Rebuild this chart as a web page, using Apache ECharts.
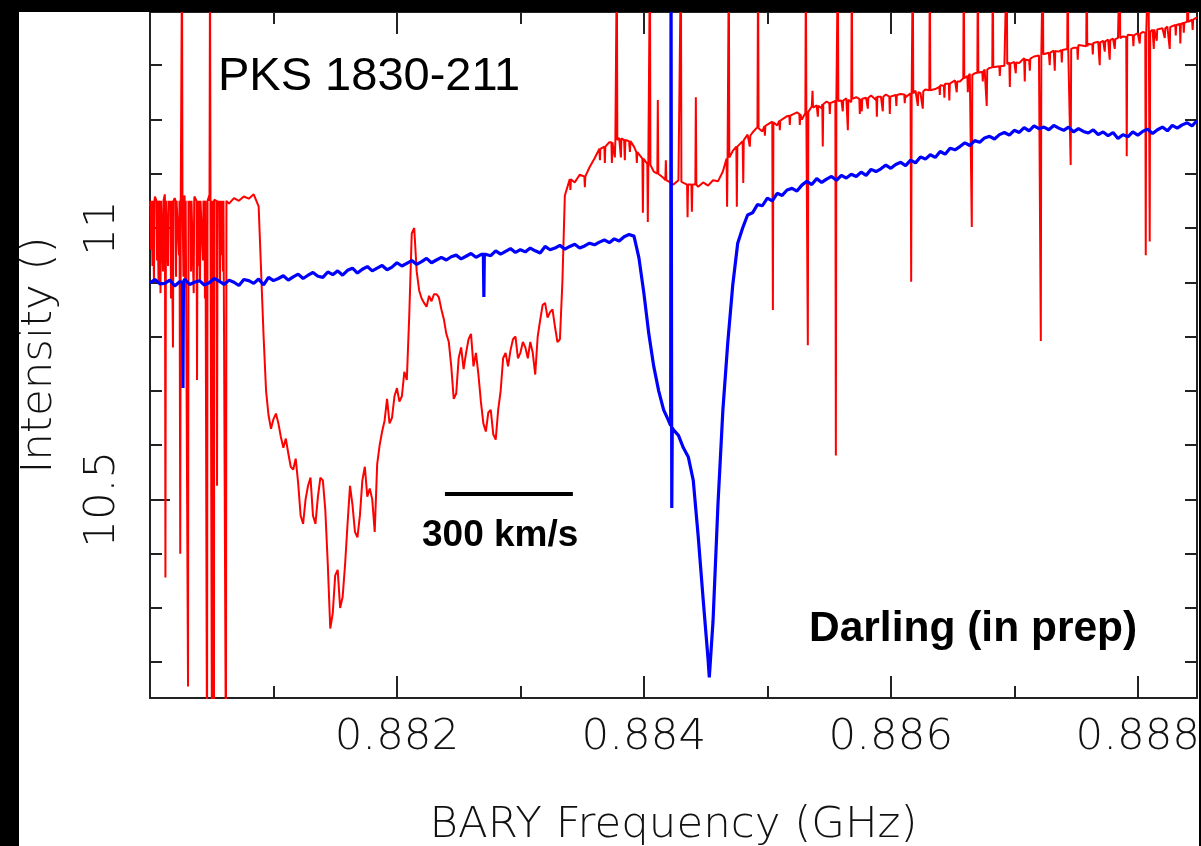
<!DOCTYPE html>
<html><head><meta charset="utf-8">
<script src="https://cdn.jsdelivr.net/npm/echarts@6/dist/echarts.min.js"></script>
<style>
html,body{margin:0;padding:0;background:#000;width:1201px;height:846px;overflow:hidden}
#chart{position:absolute;left:19px;top:12px;width:1180px;height:834px;background:#fff}
</style></head><body><div id="chart"></div>
<script>
// channel grid of both spectra (GHz)
const freqStart = 0.88;
const freqStep = 0.00004;

const redIntensity = [
11.040, 11.058, 11.045, 11.062, 11.035, 11.055, 11.048, 11.060, 11.040, 11.058,
11.050, 11.045, 11.060, 11.052, 11.040, 11.050, 11.045, 11.055, 11.050, 11.058,
11.054, 11.062, 11.040, 10.800, 10.655, 10.648, 10.640, 10.595, 10.585, 10.555,
10.530, 10.455, 10.525, 10.470, 10.505, 10.535, 10.380, 10.290, 10.370, 10.320,
10.455, 10.490, 10.430, 10.535, 10.505, 10.500, 10.565, 10.625, 10.685, 10.650,
10.705, 10.690, 10.720, 10.990, 10.920, 10.870, 10.855, 10.865, 10.878, 10.850,
10.805, 10.745, 10.695, 10.780, 10.770, 10.805, 10.770, 10.680, 10.625, 10.665,
10.610, 10.700, 10.770, 10.775, 10.800, 10.770, 10.780, 10.790, 10.730, 10.830,
10.862, 10.845, 10.818, 10.795, 11.060, 11.090, 11.084, 11.098, 11.094, 11.112,
11.128, 11.146, 11.150, 11.158, 11.160, 11.166, 11.162, 11.160, 11.150, 11.140,
11.126, 11.116, 11.104, 11.100, 11.092, 11.086, 11.080, 11.088, 11.082, 11.078,
11.082, 11.076, 11.084, 11.078, 11.088, 11.086, 11.104, 11.128, 11.142, 11.150,
11.160, 11.172, 11.176, 11.186, 11.178, 11.188, 11.196, 11.189, 11.198, 11.206,
11.205, 11.213, 11.200, 11.212, 11.224, 11.226, 11.221, 11.233, 11.229, 11.234,
11.235, 11.239, 11.232, 11.241, 11.237, 11.240, 11.244, 11.236, 11.242, 11.246,
11.239, 11.245, 11.247, 11.241, 11.248, 11.253, 11.249, 11.255, 11.258, 11.256,
11.263, 11.266, 11.268, 11.272, 11.270, 11.279, 11.284, 11.285, 11.289, 11.292,
11.295, 11.298, 11.301, 11.299, 11.305, 11.306, 11.304, 11.313, 11.309, 11.316,
11.318, 11.320, 11.323, 11.327, 11.325, 11.331, 11.333, 11.332, 11.337, 11.336,
11.339, 11.341, 11.343, 11.345, 11.347, 11.349, 11.350, 11.353, 11.356, 11.355,
11.359, 11.361, 11.360, 11.365, 11.366, 11.368, 11.371, 11.372, 11.375, 11.377,
11.380, 11.384, 11.388
];

// red absorption detail read between channels (half-channel offsets)
const redDetailStart = 0.88094;
const redDetail = [
10.700, 10.630, 10.658, 10.615, 10.612, 10.560, 10.575, 10.470, 10.500, 10.540,
10.455, 10.540, 10.480, 10.262, 10.360, 10.300, 10.380, 10.525, 10.440, 10.470,
10.560, 10.520, 10.440, 10.600, 10.645, 10.640, 10.690, 10.680, 10.735, 10.840,
11.000, 10.885, 10.862, 10.875, 10.878, 10.872, 10.832, 10.790, 10.685, 10.760,
10.740, 10.795, 10.745, 10.730, 10.640, 10.660, 10.620, 10.665, 10.760, 10.745,
10.795, 10.760, 10.790, 10.760, 10.770, 10.800, 10.858, 10.835, 10.850, 10.790,
10.900
];

const blueIntensity = [
10.899, 10.905, 10.897, 10.898, 10.904, 10.893, 10.901, 10.906, 10.896, 10.900,
10.903, 10.895, 10.899, 10.907, 10.902, 10.896, 10.904, 10.900, 10.894, 10.905,
10.903, 10.898, 10.906, 10.895, 10.909, 10.903, 10.907, 10.912, 10.904, 10.910,
10.915, 10.907, 10.913, 10.918, 10.911, 10.909, 10.919, 10.914, 10.921, 10.913,
10.922, 10.926, 10.917, 10.924, 10.929, 10.921, 10.926, 10.931, 10.923, 10.928,
10.936, 10.930, 10.935, 10.940, 10.933, 10.938, 10.944, 10.936, 10.941, 10.946,
10.941, 10.947, 10.950, 10.943, 10.948, 10.953, 10.946, 10.951, 10.955, 10.949,
10.958, 10.952, 10.957, 10.962, 10.955, 10.960, 10.956, 10.963, 10.958, 10.954,
10.966, 10.960, 10.963, 10.968, 10.961, 10.966, 10.970, 10.963, 10.967, 10.972,
10.969, 10.974, 10.978, 10.973, 10.980, 10.976, 10.984, 10.988, 10.985, 10.945,
10.880, 10.805, 10.745, 10.700, 10.665, 10.645, 10.628, 10.618, 10.595, 10.578,
10.535, 10.432, 10.316, 10.205, 10.275, 10.490, 10.665, 10.790, 10.895, 10.972,
11.000, 11.024, 11.028, 11.043, 11.041, 11.055, 11.050, 11.064, 11.060, 11.070,
11.073, 11.068, 11.079, 11.086, 11.080, 11.091, 11.084, 11.090, 11.095, 11.088,
11.097, 11.092, 11.099, 11.095, 11.103, 11.097, 11.108, 11.104, 11.109, 11.116,
11.110, 11.117, 11.121, 11.115, 11.125, 11.120, 11.131, 11.127, 11.135, 11.130,
11.141, 11.136, 11.147, 11.144, 11.150, 11.157, 11.152, 11.161, 11.158, 11.166,
11.169, 11.164, 11.172, 11.176, 11.171, 11.180, 11.176, 11.185, 11.179, 11.188,
11.183, 11.186, 11.181, 11.189, 11.184, 11.180, 11.186, 11.177, 11.183, 11.178,
11.175, 11.181, 11.172, 11.177, 11.170, 11.176, 11.165, 11.172, 11.168, 11.177,
11.171, 11.178, 11.182, 11.174, 11.181, 11.186, 11.179, 11.189, 11.184, 11.190,
11.194, 11.188, 11.198
];

// narrow RFI spikes: [GHz, local continuum, spike tip]
const redSpikes = [
[0.880008, 11.05, 10.96], [0.880020, 11.05, 10.93], [0.880032, 11.05, 10.90], [0.880057, 11.05, 10.94],
[0.880069, 11.05, 10.90], [0.880085, 11.05, 10.88], [0.880105, 11.05, 10.92], [0.880125, 11.05, 10.356],
[0.880146, 11.05, 10.93], [0.880170, 11.05, 10.87], [0.880186, 11.05, 10.78], [0.880211, 11.05, 10.91],
[0.880235, 11.05, 10.95], [0.880245, 11.05, 10.40], [0.880259, 11.05, 11.5], [0.880271, 11.05, 10.91],
[0.880285, 11.05, 10.89], [0.880308, 11.05, 10.155], [0.880332, 11.05, 10.92], [0.880354, 11.05, 10.88],
[0.880381, 11.05, 10.72], [0.880393, 11.05, 10.93], [0.880405, 11.05, 10.90], [0.880429, 11.05, 10.94],
[0.880445, 11.05, 10.87], [0.880462, 11.05, 10.0], [0.880486, 11.05, 11.5], [0.880502, 11.05, 10.0],
[0.880518, 11.05, 10.0], [0.880543, 11.05, 10.525], [0.880567, 11.05, 10.90], [0.880579, 11.05, 10.95],
[0.880591, 11.05, 10.92], [0.880615, 11.05, 10.0],
[0.883405, 11.09, 11.07], [0.883522, 11.095, 11.075], [0.883644, 11.146, 11.125], [0.883684, 11.15, 11.12],
[0.883741, 11.158, 11.12], [0.883765, 11.16, 11.13], [0.883781, 11.162, 11.5], [0.883814, 11.165, 11.13],
[0.883846, 11.162, 11.125], [0.883887, 11.16, 11.14], [0.883943, 11.14, 11.12], [0.883992, 11.128, 11.028],
[0.884032, 11.118, 11.011], [0.884049, 11.116, 11.5], [0.884113, 11.10, 11.236], [0.884178, 11.088, 11.125],
[0.884300, 11.085, 11.5], [0.884354, 11.08, 11.02], [0.884389, 11.08, 11.03], [0.884421, 11.08, 11.241],
[0.884674, 11.128, 11.039], [0.884688, 11.13, 11.5], [0.884753, 11.15, 11.039], [0.884805, 11.162, 11.083],
[0.884858, 11.17, 11.15], [0.884925, 11.184, 11.5], [0.884980, 11.188, 11.17], [0.885045, 11.195, 10.849],
[0.885101, 11.198, 11.18], [0.885182, 11.207, 11.19], [0.885263, 11.21, 11.19], [0.885312, 11.212, 11.5],
[0.885328, 11.214, 10.784], [0.885366, 11.222, 11.253], [0.885409, 11.225, 11.205], [0.885449, 11.228, 11.15],
[0.885506, 11.23, 11.21], [0.885555, 11.234, 10.581], [0.885571, 11.234, 11.5], [0.885611, 11.235, 11.215],
[0.885652, 11.236, 11.18], [0.885684, 11.238, 11.5], [0.885749, 11.238, 11.21], [0.885765, 11.238, 11.215],
[0.885814, 11.24, 11.22], [0.885887, 11.242, 11.205], [0.885935, 11.242, 11.215], [0.885992, 11.242, 11.21],
[0.886045, 11.245, 11.225], [0.886113, 11.246, 11.23], [0.886165, 11.247, 10.901], [0.886178, 11.248, 11.5],
[0.886219, 11.25, 11.225], [0.886259, 11.252, 11.22], [0.886316, 11.254, 11.5], [0.886397, 11.26, 11.245],
[0.886434, 11.262, 11.24], [0.886474, 11.266, 11.235], [0.886534, 11.27, 11.25], [0.886591, 11.276, 11.5],
[0.886624, 11.28, 11.25], [0.886656, 11.282, 11.002], [0.886705, 11.286, 11.5], [0.886745, 11.288, 11.27],
[0.886777, 11.292, 11.225], [0.886826, 11.296, 11.5], [0.886883, 11.298, 11.28], [0.886939, 11.302, 11.5],
[0.886964, 11.303, 11.26], [0.887012, 11.305, 11.285], [0.887085, 11.31, 11.27], [0.887126, 11.312, 11.29],
[0.887215, 11.318, 10.792], [0.887231, 11.32, 11.5], [0.887287, 11.323, 11.30], [0.887328, 11.326, 11.29],
[0.887385, 11.328, 11.305], [0.887433, 11.33, 11.5], [0.887457, 11.33, 11.116], [0.887514, 11.332, 11.31],
[0.887587, 11.335, 11.5], [0.887636, 11.338, 11.32], [0.887692, 11.342, 11.30], [0.887733, 11.344, 11.325],
[0.887773, 11.346, 11.31], [0.887814, 11.348, 11.33], [0.887854, 11.35, 11.5], [0.887911, 11.352, 11.132],
[0.887965, 11.355, 11.335], [0.888016, 11.358, 11.34], [0.888065, 11.36, 10.95], [0.888086, 11.36, 11.5],
[0.888097, 11.362, 10.975], [0.888130, 11.366, 11.33], [0.888154, 11.366, 11.345], [0.888219, 11.368, 11.35],
[0.888259, 11.37, 11.33], [0.888308, 11.374, 11.355], [0.888345, 11.376, 11.34], [0.888373, 11.378, 11.36],
[0.888405, 11.38, 11.5], [0.888445, 11.384, 11.365]
];
// blue narrow features: [GHz, local continuum, tip]
const blueSpikes = [
[0.880267, 10.900, 10.705], [0.882704, 10.952, 10.873]
];
// sharp blue points: [GHz, intensity]
const blueFeatures = [
[0.884217, 10.636], [0.884220, 11.5], [0.884226, 10.484], [0.884230, 10.632], [0.884530, 10.172]
];
const scaleBar = [[0.882389, 10.51], [0.883425, 10.51]];

const xMajorTicks = [0.882, 0.884, 0.886, 0.888];
const xMinorTicks = [0.881, 0.883, 0.885, 0.887];
const yMajorTicks = [10.5, 11];
const yMinorTicks = [10.2, 10.3, 10.4, 10.6, 10.7, 10.8, 10.9, 11.1, 11.2, 11.3];
const yAllTicks = [10.2, 10.3, 10.4, 10.5, 10.6, 10.7, 10.8, 10.9, 11, 11.1, 11.2, 11.3];

const HW = 0.000004; // half width of a one-channel spike
function spikePoints(list) {
  const out = [];
  list.forEach(([f, base, tip]) => {
    out.push([f - HW, base], [f, tip], [f + HW, base]);
  });
  return out;
}
function gridPoints(vals, start) {
  return vals.map((v, i) => [+(start + i * freqStep).toFixed(6), v]);
}
function buildSpectrum(parts) {
  return [].concat(...parts).sort((a, b) => a[0] - b[0]);
}

const XMIN = 0.88, XMAX = 0.88848, YMIN = 10.134, YMAX = 11.398;
const AX = '#222';
const axFont = '"DejaVu Sans", sans-serif';
const FS = 43.5;

function xAx(pos, ticks, len, showLine, labels) {
  return {
    type: 'value', position: pos, min: XMIN, max: XMAX, gridIndex: 0,
    axisLine: { show: showLine, onZero: false, lineStyle: { color: AX, width: 2 } },
    axisTick: { show: true, inside: true, length: len, customValues: ticks, lineStyle: { color: AX, width: 2 } },
    axisLabel: labels ? {
      show: true, customValues: ticks, margin: 18, color: '#111',
      fontFamily: axFont, fontSize: FS, fontWeight: 200,
      formatter: v => v.toFixed(3)
    } : { show: false },
    splitLine: { show: false },
    ...(labels ? {
      name: 'BARY Frequency (GHz)', nameLocation: 'middle', nameGap: 106,
      nameTextStyle: { fontFamily: axFont, fontSize: FS, fontWeight: 200, color: '#111' }
    } : {})
  };
}
function yAx(pos, ticks, len, showLine, labels) {
  return {
    type: 'value', position: pos, min: YMIN, max: YMAX, gridIndex: 0,
    axisLine: { show: showLine, onZero: false, lineStyle: { color: AX, width: 2 } },
    axisTick: { show: true, inside: true, length: len, customValues: ticks, lineStyle: { color: AX, width: 2 } },
    axisLabel: labels ? {
      show: true, customValues: ticks, rotate: 90, margin: 25, color: '#111',
      fontFamily: axFont, fontSize: FS, fontWeight: 200,
      formatter: v => String(+v.toFixed(1))
    } : { show: false },
    splitLine: { show: false },
    ...(labels ? {
      name: 'Intensity ()', nameLocation: 'middle', nameGap: 88, nameRotate: 90,
      nameTextStyle: { fontFamily: axFont, fontSize: FS, fontWeight: 200, color: '#111' }
    } : {})
  };
}

const chart = echarts.init(document.getElementById('chart'), null, { renderer: 'canvas' });
chart.setOption({
  animation: false,
  backgroundColor: '#fff',
  grid: { left: 131, top: 0, width: 1047, height: 686, outerBoundsMode: 'none', containLabel: false },
  xAxis: [
    xAx('bottom', xMajorTicks, 22, true, true),
    xAx('bottom', xMinorTicks, 12, false, false),
    xAx('top', xMajorTicks, 22, true, false),
    xAx('top', xMinorTicks, 12, false, false)
  ],
  yAxis: [
    yAx('left', yMajorTicks, 20, true, true),
    yAx('left', yMinorTicks, 12, false, false),
    yAx('right', yAllTicks, 12, true, false)
  ],
  series: [
    { type: 'line', xAxisIndex: 0, yAxisIndex: 0,
      data: buildSpectrum([gridPoints(redIntensity, freqStart), gridPoints(redDetail, redDetailStart), spikePoints(redSpikes)]),
      symbol: 'none', showSymbol: false, clip: true, silent: true, z: 2,
      lineStyle: { color: '#ff0000', width: 2, join: 'bevel' } },
    { type: 'line', xAxisIndex: 0, yAxisIndex: 0,
      data: buildSpectrum([gridPoints(blueIntensity, freqStart), spikePoints(blueSpikes), blueFeatures]),
      symbol: 'none', showSymbol: false, clip: true, silent: true, z: 3,
      lineStyle: { color: '#0000ff', width: 3.2, join: 'bevel' } },
    { type: 'line', xAxisIndex: 0, yAxisIndex: 0, data: scaleBar,
      symbol: 'none', showSymbol: false, clip: true, silent: true, z: 4,
      lineStyle: { color: '#000', width: 4 } }
  ],
  graphic: [
    { type: 'text', x: 199, y: 65, silent: true, style: { text: 'PKS 1830-211', fill: '#000',
      font: '47px "Liberation Sans", Arial, sans-serif', align: 'left', verticalAlign: 'middle',
      textAlign: 'left', textVerticalAlign: 'middle' } },
    { type: 'text', x: 403, y: 524, silent: true, style: { text: '300 km/s', fill: '#000',
      font: 'bold 37px "Liberation Sans", Arial, sans-serif', align: 'left', verticalAlign: 'middle',
      textAlign: 'left', textVerticalAlign: 'middle' } },
    { type: 'text', x: 790, y: 617, silent: true, style: { text: 'Darling (in prep)', fill: '#000',
      font: 'bold 42.5px "Liberation Sans", Arial, sans-serif', align: 'left', verticalAlign: 'middle',
      textAlign: 'left', textVerticalAlign: 'middle' } }
  ]
});
</script>
</body></html>
